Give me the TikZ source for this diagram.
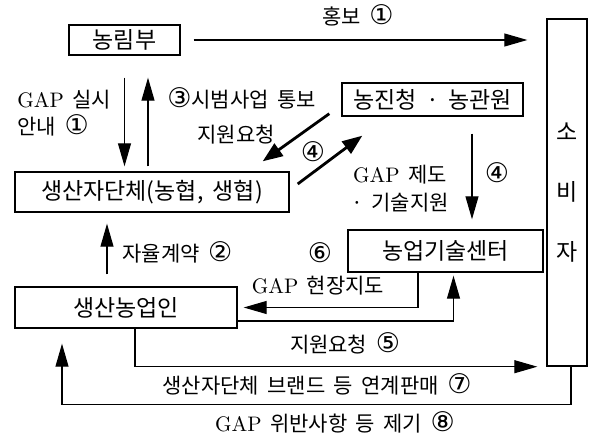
\documentclass[tikz,border=0pt]{standalone}
\usepackage{fontspec}
\usetikzlibrary{arrows.meta,calc}
\newfontfamily\kr[WordSpace=1.8]{Noto Sans CJK KR}
\newfontfamily\circfont{DejaVu Sans}
\newcommand{\gapword}{{\rmfamily GAP}}
\newcommand{\cnum}[1]{{\circfont\fontsize{13.5}{13.5}\selectfont #1}}

\begin{document}
\begin{tikzpicture}[x=0.5pt, y=-0.5pt,
    box/.style={draw, line width=0.7pt, inner sep=0pt, font=\kr\fontsize{11.5}{14}\selectfont},
    lbl/.style={inner sep=0pt, font=\kr\fontsize{10.5}{13.5}\selectfont},
    arr/.style={line width=0.55pt, -{Triangle[length=11.5pt,width=6.5pt]}},
    boldarr/.style={line width=1.4pt, -{Triangle[length=10pt,width=7.5pt]}}]
  % Frame to fix the page size
  \useasboundingbox (0,0) rectangle (601,438);
  % Boxes
  \node[box, minimum width=55.5pt, minimum height=15pt]   (nonglim)  at (124.5,40)  {농림부};
  \node[box, minimum width=137pt,  minimum height=20pt]   (danche)   at (152,192)   {생산자단체(농협, 생협)};
  \node[box, minimum width=90.5pt, minimum height=16.5pt] (nongjin)  at (432.5,99.5) {농진청 · 농관원};
  \node[box, minimum width=97.5pt, minimum height=21pt]   (center)   at (445.5,251) {농업기술센터};
  \node[box, minimum width=111pt,  minimum height=20.5pt] (farmer)   at (126,307.5) {생산농업인};
  \node[box, minimum width=20pt,   minimum height=173.5pt, align=center,
        font=\kr\fontsize{11.5}{30}\selectfont]           (consumer) at (567,192.5) {소\\비\\자};
  % Labels
  \node[lbl] (l1) at (358,15) {홍보 \cnum{①}};
  \node[lbl, anchor=west, align=left] (l2) at (17,113) {\gapword{} 실시\\안내 \cnum{①}};
  \node[lbl, anchor=west] (l3) at (167,98) {\cnum{③}시범사업 통보};
  \node[lbl] (l4a) at (236,135) {지원요청};
  \node[lbl] (l4b) at (313,152) {\cnum{④}};
  \node[lbl, align=center, font=\kr\fontsize{10.5}{14}\selectfont] (l4c) at (400,189) {\gapword{} 제도\\· 기술지원};
  \node[lbl] (l4d) at (497,173) {\cnum{④}};
  \node[lbl, anchor=west] (l2b) at (122,252) {자율계약 \cnum{②}};
  \node[lbl] (l6a) at (320,253) {\cnum{⑥}};
  \node[lbl] (l6b) at (318,286) {\gapword{} 현장지도};
  \node[lbl] (l5) at (345,343) {지원요청 \cnum{⑤}};
  \node[lbl] (l7) at (317,384) {생산자단체 브랜드 등 연계판매 \cnum{⑦}};
  \node[lbl] (l8) at (335,422) {\gapword{} 위반사항 등 제기 \cnum{⑧}};
  % Arrows from 농림부
  \draw[arr, shorten <=6.5pt, shorten >=9.5pt] (nonglim.east) -- (nonglim.east -| consumer.west);
  \coordinate (up3) at ($(nonglim.south)+(23.5,0)$);
  \draw[arr, shorten <=11pt, shorten >=2.5pt] (nonglim.south) -- (nonglim.south |- danche.north);
  \draw[arr, shorten <=2.5pt, shorten >=11pt] (up3 |- danche.north) -- (up3);
  % Thick pair between 생산자단체 and 농진청
  \draw[boldarr] ($(nongjin.south west)+(-12,-3)$) -- ($(danche.north east)+(-27,-10)$);
  \draw[boldarr] ($(danche.east)+(8,-8)$) -- ($(nongjin.south west)+(21,19)$);
  % 농진청 to 농업기술센터
  \coordinate (d4) at ($(nongjin.south)+(39.5,0)$);
  \draw[arr, shorten <=8.5pt, shorten >=5pt] (d4) -- (d4 |- center.north);
  % 생산농업인 to 생산자단체
  \coordinate (up2) at ($(farmer.north)+(-19,0)$);
  \draw[arr, shorten <=6pt, shorten >=5.5pt] (up2) -- (up2 |- danche.south);
  % 농업기술센터 and 생산농업인
  \coordinate (c6) at ($(center.south)+(-27.5,0)$);
  \draw[arr, shorten >=3pt] (c6) |- (farmer.east);
  \coordinate (c5) at ($(center.south)+(8,0)$);
  \draw[arr, shorten >=1.5pt] ($(farmer.east)+(0,13.5)$) -| (c5);
  % 생산농업인 and 소비자
  \draw[arr, shorten >=4.5pt] ($(farmer.south)+(9,0)$) |- (consumer.south west);
  \coordinate (b8) at ($(consumer.south)+(4,38)$);
  \draw[arr, shorten >=7.5pt] ($(consumer.south)+(4,0)$) -- (b8) -| ($(farmer.south)+(-64,0)$);
\end{tikzpicture}
\end{document}
